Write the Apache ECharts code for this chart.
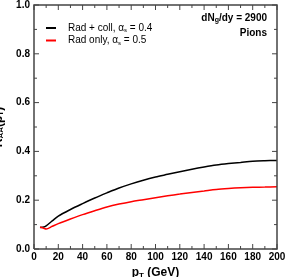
<!DOCTYPE html>
<html><head><meta charset="utf-8">
<script src="https://cdn.jsdelivr.net/npm/echarts@6/dist/echarts.min.js"></script>
<style>html,body{margin:0;padding:0;background:#fff}#c{width:288px;height:277px}</style>
</head><body><div id="c"></div>
<script>
const pT = [5, 8, 10, 15, 20, 30, 40, 50, 60, 70, 80, 90, 100, 110, 120, 130, 140, 150, 160, 170, 180, 190, 200];
const radColl = [0.088, 0.09, 0.095, 0.115, 0.135, 0.162, 0.186, 0.209, 0.23, 0.25, 0.267, 0.282, 0.295, 0.306, 0.317, 0.327, 0.336, 0.344, 0.35, 0.355, 0.36, 0.362, 0.363];
const radOnly = [0.09, 0.085, 0.082, 0.093, 0.104, 0.123, 0.141, 0.157, 0.172, 0.184, 0.194, 0.202, 0.21, 0.218, 0.225, 0.232, 0.238, 0.244, 0.248, 0.251, 0.253, 0.254, 0.255];
const xTicks = [0, 20, 40, 60, 80, 100, 120, 140, 160, 180, 200];
const yTicks = [0.0, 0.2, 0.4, 0.6, 0.8, 1.0];
const seriesNames = ['Rad + coll, α_s = 0.4', 'Rad only, α_s = 0.5'];

const xMinor = xTicks.slice(1).map((v, i) => (v + xTicks[i]) / 2);
const yMinor = yTicks.slice(1).map((v, i) => (v + yTicks[i]) / 2);
const xMin = xTicks[0], xMax = xTicks[xTicks.length - 1];
const yMin = yTicks[0], yMax = yTicks[yTicks.length - 1];

const chart = echarts.init(document.getElementById('c'), null, {renderer: 'canvas'});
const F = '"Liberation Sans", Arial, Helvetica, sans-serif';
const axCol = '#444444';
function mk(o) {
  return Object.assign({
    type: 'value',
    axisLine: {show: false},
    axisTick: {show: false},
    minorTick: {show: false},
    splitLine: {show: false}
  }, o);
}
function frameItem(params, api) {
  const bl = api.coord([xMin, yMin]);
  const tr = api.coord([xMax, yMax]);
  const kids = [];
  const st = (w) => ({stroke: axCol, lineWidth: w, fill: null});
  kids.push({type: 'polyline', shape: {points: [[bl[0], bl[1]], [tr[0], bl[1]], [tr[0], tr[1]], [bl[0], tr[1]], [bl[0], bl[1]]]}, style: st(1.5)});
  const addX = (vals, len) => vals.forEach(v => {
    const x = api.coord([v, yMin])[0];
    kids.push({type: 'polyline', shape: {points: [[x, bl[1]], [x, bl[1] - len]]}, style: st(1)});
    kids.push({type: 'polyline', shape: {points: [[x, tr[1]], [x, tr[1] + len]]}, style: st(1)});
  });
  const addY = (vals, len) => vals.forEach(v => {
    const y = api.coord([xMin, v])[1];
    kids.push({type: 'polyline', shape: {points: [[bl[0], y], [bl[0] + len, y]]}, style: st(1)});
    kids.push({type: 'polyline', shape: {points: [[tr[0], y], [tr[0] - len, y]]}, style: st(1)});
  });
  addX(xTicks, 5); addX(xMinor, 3);
  addY(yTicks, 5); addY(yMinor, 3);
  return {type: 'group', children: kids};
}
chart.setOption({
  animation: false,
  grid: {left: 34, right: 11, top: 5, bottom: 28, outerBoundsMode: 'none', containLabel: false},
  legend: {
    orient: 'vertical', left: 41, top: 18, itemGap: 2,
    itemWidth: 10, itemHeight: 2, icon: 'rect',
    data: seriesNames,
    formatter: n => '{g|}' + n.replace(/α_s/, '{a|α}{s|s}'),
    textStyle: {fontFamily: F, fontSize: 10, color: '#000',
      rich: {g: {width: 7}, a: {fontFamily: F, fontSize: 10, color: '#000'}, s: {fontFamily: F, fontSize: 6, padding: [5, 0, 0, 0], color: '#000'}}}
  },
  xAxis: [
    mk({min: xMin, max: xMax, interval: 20, position: 'bottom',
      name: '{b|p}{s|T}{b| (GeV)}', nameLocation: 'middle', nameGap: 14,
      nameTextStyle: {rich: {b: {fontFamily: F, fontWeight: 'bold', fontSize: 12, color: '#000'}, s: {fontFamily: F, fontWeight: 'bold', fontSize: 8, color: '#000', padding: [6, 0, 0, 0]}}},
      axisLabel: {fontFamily: F, fontWeight: 'bold', fontSize: 10, color: '#000', margin: 3}})
  ],
  yAxis: [
    mk({min: yMin, max: yMax, interval: 0.2, position: 'left',
      name: '{b|R}{s|AA}{b|(p}{s|T}{b|)}', nameLocation: 'middle', nameGap: 20, nameRotate: 90,
      nameTextStyle: {rich: {b: {fontFamily: F, fontWeight: 'bold', fontSize: 12, color: '#000'}, s: {fontFamily: F, fontWeight: 'bold', fontSize: 8, color: '#000', padding: [6, 0, 0, 0]}}},
      axisLabel: {fontFamily: F, fontWeight: 'bold', fontSize: 10, color: '#000', margin: 4, formatter: v => v.toFixed(1)}})
  ],
  graphic: [
    {type: 'text', right: 21, top: 13, style: {text: '{b|dN}{s|g}{b|/dy = 2900}', rich: {b: {fontFamily: F, fontWeight: 'bold', fontSize: 10, fill: '#000'}, s: {fontFamily: F, fontWeight: 'bold', fontSize: 7, fill: '#000', padding: [5, 0, 0, 0]}}}},
    {type: 'text', right: 21, top: 28, style: {text: 'Pions', font: 'bold 10px ' + F, fill: '#000'}}
  ],
  series: [
    {name: seriesNames[0], type: 'line', showSymbol: false, smooth: 0.3, data: pT.map((x, i) => [x, radColl[i]]), lineStyle: {color: '#000', width: 1.5}, itemStyle: {color: '#000'}},
    {name: seriesNames[1], type: 'line', showSymbol: false, smooth: 0.3, data: pT.map((x, i) => [x, radOnly[i]]), lineStyle: {color: '#f00', width: 1.5}, itemStyle: {color: '#f00'}},
    {type: 'custom', silent: true, z: 5, clip: false, data: [[xMin, yMin]], renderItem: frameItem}
  ]
});
</script></body></html>
